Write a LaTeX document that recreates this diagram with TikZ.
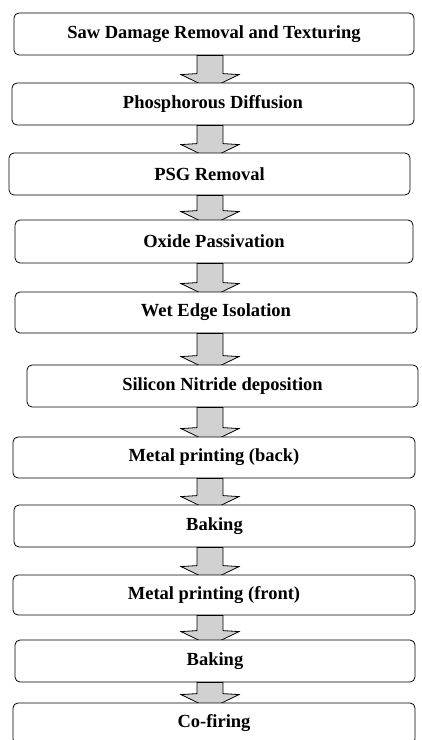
\documentclass[tikz,border=0pt]{standalone}
\usepackage{fontspec}
\setmainfont{Liberation Serif}
\usetikzlibrary{calc,backgrounds}
\tikzset{
  stepbox/.style={draw=black, line width=0.8pt, rounded corners=5pt, fill=white,
    inner sep=0pt, font=\fontsize{18.5}{20}\selectfont\bfseries},
  blockarr/.style={draw=black, line width=0.8pt, fill=black!18}
}
\begin{document}
\begin{tikzpicture}[x=1pt,y=1pt]
\useasboundingbox (0,0) rectangle (421,740);
\node[stepbox, minimum width=400pt, minimum height=42pt] (b1) at (214,706) {Saw Damage Removal and Texturing};
\node[stepbox, minimum width=402pt, minimum height=42pt] (b2) at (213,636) {Phosphorous Diffusion};
\node[stepbox, minimum width=401pt, minimum height=42pt] (b3) at (209.5,566) {PSG Removal};
\node[stepbox, minimum width=398pt, minimum height=43pt] (b4) at (214,498.5) {Oxide Passivation};
\node[stepbox, minimum width=402pt, minimum height=41pt] (b5) at (216,427.5) {Wet Edge Isolation};
\node[stepbox, minimum width=391pt, minimum height=42pt] (b6) at (222.5,354) {Silicon Nitride deposition};
\node[stepbox, minimum width=402pt, minimum height=41pt] (b7) at (214,282.5) {Metal printing (back)};
\node[stepbox, minimum width=401pt, minimum height=42pt] (b8) at (214.5,214) {Baking};
\node[stepbox, minimum width=402pt, minimum height=40pt] (b9) at (214,145) {Metal printing (front)};
\node[stepbox, minimum width=400pt, minimum height=42pt] (b10) at (215,79) {Baking};
\node[stepbox, minimum width=402pt, minimum height=41pt] (b11) at (214,16.5) {Co-firing};
\coordinate (ax) at (210,0);
\begin{scope}[on background layer]
\foreach \a/\b in {b1/b2,b2/b3,b3/b4,b4/b5,b5/b6,b6/b7,b7/b8,b8/b9,b9/b10,b10/b11}{
  \path[blockarr] let \p0=(ax), \p1=(\a.south), \p2=(\b.north) in
    (\x0-13,\y1) -- (\x0-13,\y2+9) -- (\x0-29,\y2+8) -- (\x0,\y2-6) --
    (\x0+29,\y2+8) -- (\x0+13,\y2+9) -- (\x0+13,\y1) -- cycle;
}
\end{scope}
\end{tikzpicture}
\end{document}
